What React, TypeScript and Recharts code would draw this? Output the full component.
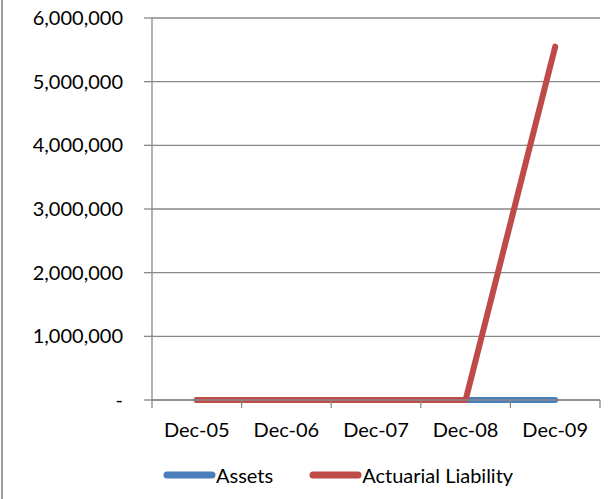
import React from 'react';
import { LineChart, Line, XAxis, YAxis, CartesianGrid, Legend } from 'recharts';

const categories = ['Dec-05', 'Dec-06', 'Dec-07', 'Dec-08', 'Dec-09'];
const assets = [0, 0, 0, 0, 0];
const actuarialLiability = [0, 0, 0, 0, 5550000];
const yTicks = [0, 1000000, 2000000, 3000000, 4000000, 5000000, 6000000];
const bandEdges = [0, 1, 2, 3, 4, 5];

const seriesInfo = [
  { key: 'assets', name: 'Assets', color: '#4A7EBB' },
  { key: 'liability', name: 'Actuarial Liability', color: '#BE4B48' },
];

const data = categories.map((name, i) => ({
  x: i + 0.5,
  name,
  assets: assets[i],
  liability: actuarialLiability[i],
}));

const FONT = 'Lato, "Noto Sans", sans-serif';
const GRID = '#888888';

function formatY(v: number) {
  if (v === 0) return '-';
  return v.toLocaleString('en-US');
}

// tick marks sit on the band edges, labels go in the middle of each band
function CategoryTick(props: any) {
  const { x, y, payload, width } = props;
  const idx = payload?.value;
  if (idx == null || idx >= categories.length) return <g />;
  const band = (width ?? 448) / categories.length;
  return (
    <text
      x={x + band / 2}
      y={y}
      dy="0.71em"
      textAnchor="middle"
      fill="#000"
      fontSize={20}
      fontFamily={FONT}
    >
      {categories[idx]}
    </text>
  );
}

function LegendContent() {
  return (
    <div
      style={{
        display: 'flex',
        alignItems: 'center',
        paddingLeft: 163,
        fontFamily: FONT,
        fontSize: 20,
        color: '#000',
        height: 49,
        boxSizing: 'border-box',
      }}
    >
      {seriesInfo.map((s, i) => (
        <div key={s.key} style={{ display: 'flex', alignItems: 'center', marginRight: i === 0 ? 36 : 0 }}>
          <svg width={53} height={8} style={{ display: 'block' }}>
            <line x1={4} y1={4} x2={49} y2={4} stroke={s.color} strokeWidth={7} strokeLinecap="round" />
          </svg>
          <span>{s.name}</span>
        </div>
      ))}
    </div>
  );
}

export default function App() {
  return (
    <div
      style={{
        position: 'absolute',
        left: 0,
        top: 0,
        width: 610,
        height: 499,
        background: '#fff',
      }}
    >
      <div style={{ position: 'absolute', left: 1, top: 0, width: 2, height: 499, background: '#9c9c9c' }} />
      <LineChart
        width={610}
        height={499}
        data={data}
        margin={{ top: 18, right: 10, bottom: 0, left: 0 }}
        style={{ fontFamily: FONT }}
      >
        <CartesianGrid vertical={false} stroke={GRID} strokeWidth={1.3} />
        <XAxis
          dataKey="x"
          type="number"
          domain={[0, 5]}
          ticks={bandEdges}
          interval={0}
          tick={<CategoryTick />}
          tickSize={8}
          tickMargin={15}
          height={50}
          axisLine={{ stroke: GRID, strokeWidth: 1.3 }}
          tickLine={{ stroke: GRID, strokeWidth: 1.3 }}
        />
        <YAxis
          domain={[0, 6000000]}
          ticks={yTicks}
          tickFormatter={formatY}
          width={152}
          tickSize={8}
          tickMargin={21}
          interval={0}
          axisLine={{ stroke: GRID, strokeWidth: 1.3 }}
          tickLine={{ stroke: GRID, strokeWidth: 1.3 }}
          tick={{ fill: '#000', fontSize: 20, fontFamily: FONT }}
        />
        <Legend verticalAlign="bottom" height={49} content={() => <LegendContent />} />
        {seriesInfo.map((s) => (
          <Line
            key={s.key}
            type="linear"
            dataKey={s.key}
            name={s.name}
            stroke={s.color}
            strokeWidth={6}
            strokeLinecap="round"
            strokeLinejoin="round"
            dot={false}
            activeDot={false}
            isAnimationActive={false}
          />
        ))}
      </LineChart>
    </div>
  );
}
